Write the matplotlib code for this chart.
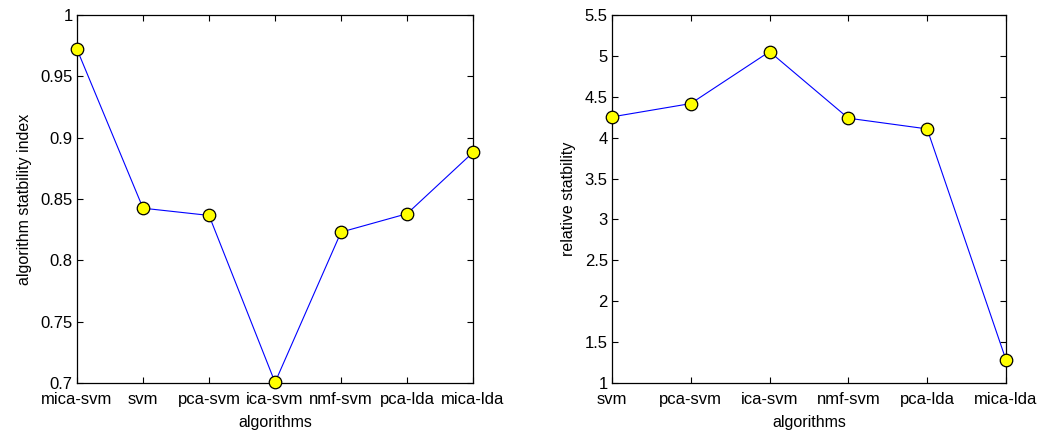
import numpy as np
import matplotlib.pyplot as plt

plt.rcParams['font.family'] = ['Liberation Sans', 'DejaVu Sans']

# 左图数据
algs_left = ['mica-svm', 'svm', 'pca-svm', 'ica-svm', 'nmf-svm', 'pca-lda', 'mica-lda']
stab_index = [0.972, 0.8425, 0.8366, 0.7005, 0.823, 0.838, 0.888]

# 右图数据
algs_right = ['svm', 'pca-svm', 'ica-svm', 'nmf-svm', 'pca-lda', 'mica-lda']
rel_stab = [4.254, 4.417, 5.052, 4.238, 4.107, 1.285]

fig = plt.figure(figsize=(10.45, 4.36), dpi=100)
ax1 = fig.add_axes([0.0737, 0.1216, 0.379, 0.844])
ax2 = fig.add_axes([0.5856, 0.1216, 0.377, 0.844])


def draw(ax, labels, vals, ylim, yticks, ylabel):
    x = np.arange(1, len(labels) + 1)
    ax.plot(x, vals, '-', color='blue', lw=0.8, marker='o', markersize=9,
            markerfacecolor='yellow', markeredgecolor='black', markeredgewidth=0.9,
            clip_on=False, zorder=3)
    ax.set_xlim(1, len(labels))
    ax.set_ylim(*ylim)
    ax.set_xticks(x)
    ax.set_xticklabels(labels)
    ax.set_yticks(yticks)
    ax.set_yticklabels(['%g' % t for t in yticks])
    ax.tick_params(direction='in', top=True, right=True, length=4, width=0.8,
                   labelsize=12)
    ax.tick_params(axis='x', pad=6.5)
    ax.tick_params(axis='y', pad=3)
    for s in ax.spines.values():
        s.set_linewidth(0.9)
    ax.set_xlabel('algorithms', fontsize=11.5, labelpad=5.5)
    ax.set_ylabel(ylabel, fontsize=11.5, labelpad=6)


draw(ax1, algs_left, stab_index, (0.7, 1.0), np.arange(0.7, 1.001, 0.05),
     'algorithm statbility index')
draw(ax2, algs_right, rel_stab, (1, 5.5), np.arange(1, 5.51, 0.5),
     'relative statbility')

fig.savefig('out.png', dpi=100)
